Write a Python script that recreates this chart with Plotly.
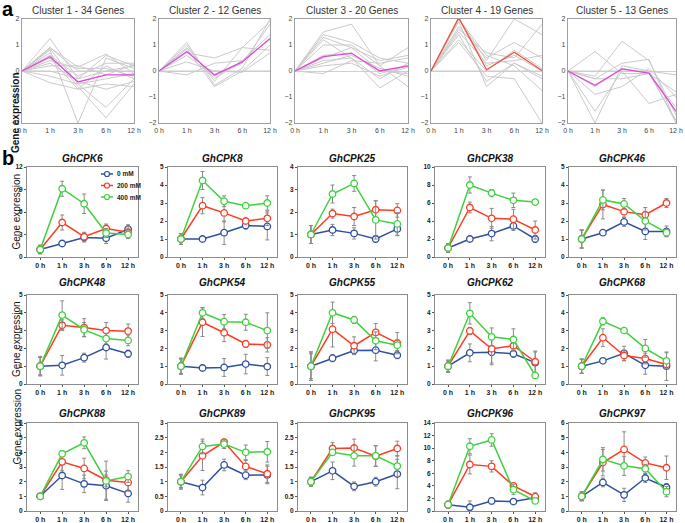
import plotly.graph_objects as go

W, H = 685, 523
times = ["0 h", "1 h", "3 h", "6 h", "12 h"]
xi = [0, 1, 2, 3, 4]

# ---------------- panel a: clusters ----------------
cluster_titles = ["Cluster 1 - 34 Genes", "Cluster 2 - 12 Genes", "Cluster 3 - 20 Genes",
                  "Cluster 4 - 19 Genes", "Cluster 5 - 13 Genes"]
cluster_means = [
    [0, 0.55, -0.42, -0.15, -0.15],
    [0, 0.75, -0.15, 0.35, 1.25],
    [0, 0.55, 0.68, 0.0, 0.2],
    [0, 2.05, 0.05, 0.72, 0.02],
    [0, -0.55, 0.08, -0.08, -1.55],
]
cluster_mean_colors = ["#E048D8", "#E048D8", "#E048D8", "#F0503C", "#E048D8"]
cluster1_genes = [
    [0, 1.25, -0.3, 0.6, 0.2], [0, 0.9, 0.15, 0.65, -0.1], [0, 0.85, -0.5, -1.4, -0.3],
    [0, 0.8, -2.0, 0.5, 0.1], [0, 0.7, -0.6, -1.8, -0.5], [0, 0.6, -0.2, 0.3, 0.3],
    [0, 0.5, -0.7, -0.5, -0.6], [0, 0.4, 0.1, 0.1, -0.2], [0, 0.3, -0.4, -0.7, -0.4],
    [0, 0.0, -0.3, 0.0, 0.2], [0, -0.2, -0.5, -0.3, -0.1], [0, -0.45, -0.7, 0.2, -0.3],
    [0, 0.9, 0.0, 0.0, 0.0], [0, 0.2, 0.2, -0.15, 0.25],
]
cluster2_genes = [
    [0, 1.1, -0.55, 0.1, 2.0], [0, 1.0, -0.4, 0.9, 1.9], [0, 0.9, -0.3, 0.4, 1.4],
    [0, 0.85, -0.6, 0.0, 1.0], [0, 0.7, 0.5, 0.9, 0.8], [0, 0.35, 0.0, -0.05, 0.7],
    [0, -0.15, 0.3, 0.4, 1.2], [0, 0.6, -0.2, 0.3, 1.8], [0, 0.0, 0.0, 0.0, 0.0],
]
cluster3_genes = [
    [0, 1.5, 1.8, 0.2, 0.9], [0, 1.3, 0.9, 0.4, 0.6], [0, 1.2, 0.5, -0.65, 0.0],
    [0, 1.0, 1.0, 0.2, -0.6], [0, 0.6, 0.7, -0.1, 0.2], [0, 0.4, 0.5, -0.3, 0.3],
    [0, 0.3, 0.6, 0.1, -0.2], [0, -0.1, 0.4, 0.3, 0.5], [0, 0.2, 0.3, -0.2, 0.15],
    [0, 0.5, 0.9, 0.0, -0.1], [0, 1.4, 1.1, 0.5, 0.3],
]
cluster4_genes = [
    [0, 2.0, 0.4, 2.0, 1.4], [0, 2.0, 0.6, 0.2, -0.75], [0, 1.9, -0.6, 0.3, -0.3],
    [0, 1.7, 0.5, 1.1, 0.5], [0, 1.5, 0.3, 0.4, 0.6], [0, 1.4, -0.4, 0.3, -0.2],
    [0, 1.2, 0.0, 0.8, 0.1], [0, 1.1, -0.2, -0.3, -2.0], [0, 2.0, 0.2, 0.6, 0.0],
    [0, 1.6, 0.7, 0.5, 1.8], [0, 0.0, 0.0, 0.0, 0.0],
]
cluster5_genes = [
    [0, 0.75, -0.1, -0.1, -0.8], [0, -0.2, 1.15, 0.4, -1.7], [0, -0.3, 0.3, 0.45, -2.0],
    [0, -0.9, -0.6, 0.1, -1.0], [0, -1.55, 0.0, -1.25, -0.9], [0, -2.0, 0.2, 0.0, -2.0],
    [0, -0.6, 0.1, -0.1, -1.4], [0, -0.3, -0.3, -0.1, -1.9], [0, 0.0, 0.0, 0.0, -0.15],
]
cluster_genes = [cluster1_genes, cluster2_genes, cluster3_genes, cluster4_genes, cluster5_genes]

# ---------------- panel b: qRT-PCR ----------------
genes = ["GhCPK6", "GhCPK8", "GhCPK25", "GhCPK38", "GhCPK46",
         "GhCPK48", "GhCPK54", "GhCPK55", "GhCPK62", "GhCPK68",
         "GhCPK88", "GhCPK89", "GhCPK95", "GhCPK96", "GhCPK97"]
y_max = [12, 5, 4, 10, 5, 5, 5, 5, 5, 5, 6, 3, 3, 14, 6]
y_step = [3, 1, 1, 2, 1, 1, 1, 1, 1, 1, 1, 0.5, 0.5, 2, 1]
series_names = ["0 mM", "200 mM", "400 mM"]
series_colors = ["#2F4F9F", "#FF3B22", "#3DD23D"]

mean_0mM = {
    "GhCPK6": [1.0, 1.8, 2.6, 2.5, 3.7], "GhCPK8": [1.0, 1.0, 1.35, 1.75, 1.7],
    "GhCPK25": [1.0, 1.2, 1.05, 0.8, 1.25], "GhCPK38": [1.0, 2.0, 2.6, 3.45, 2.0],
    "GhCPK46": [1.0, 1.35, 1.95, 1.42, 1.42], "GhCPK48": [1.0, 1.05, 1.48, 2.05, 1.7],
    "GhCPK54": [1.0, 0.9, 0.93, 1.12, 0.98], "GhCPK55": [1.0, 1.45, 1.88, 1.9, 1.62],
    "GhCPK62": [1.0, 1.75, 1.78, 1.7, 1.2], "GhCPK68": [1.0, 1.3, 1.72, 1.05, 1.0],
    "GhCPK88": [1.0, 2.42, 1.85, 1.72, 1.2], "GhCPK89": [1.0, 0.8, 1.57, 1.22, 1.23],
    "GhCPK95": [1.0, 1.37, 0.84, 1.0, 1.26], "GhCPK96": [1.0, 0.6, 1.6, 1.5, 2.1],
    "GhCPK97": [1.0, 1.95, 1.1, 2.25, 1.62],
}
err_0mM = {
    "GhCPK6": [0.5, 0.15, 0.6, 0.7, 0.6], "GhCPK8": [0.3, 0.05, 0.65, 0.2, 0.75],
    "GhCPK25": [0.4, 0.25, 0.25, 0.15, 0.3], "GhCPK38": [0.5, 0.2, 0.8, 0.5, 0.4],
    "GhCPK46": [0.5, 0.1, 0.25, 0.45, 0.3], "GhCPK48": [0.5, 0.55, 0.25, 0.65, 0.2],
    "GhCPK54": [0.45, 0.15, 0.5, 0.55, 0.5], "GhCPK55": [0.8, 0.2, 0.2, 0.6, 0.2],
    "GhCPK62": [0.35, 0.5, 0.7, 0.2, 0.6], "GhCPK68": [0.4, 0.1, 0.4, 0.5, 0.8],
    "GhCPK88": [0.15, 0.95, 0.6, 1.0, 0.6], "GhCPK89": [0.25, 0.25, 0.2, 0.15, 0.3],
    "GhCPK95": [0.15, 0.3, 0.15, 0.15, 0.5], "GhCPK96": [0.5, 1.0, 0.5, 0.3, 0.3],
    "GhCPK97": [0.3, 0.3, 0.45, 0.3, 0.25],
}
mean_200mM = {
    "GhCPK6": [1.0, 4.6, 2.7, 3.8, 3.3], "GhCPK8": [1.0, 2.85, 2.45, 2.0, 2.15],
    "GhCPK25": [1.0, 1.93, 1.8, 2.1, 2.07], "GhCPK38": [1.0, 5.5, 4.3, 4.2, 3.0],
    "GhCPK46": [1.0, 2.92, 2.52, 2.35, 3.0], "GhCPK48": [1.0, 3.3, 3.17, 3.0, 2.97],
    "GhCPK54": [1.0, 3.47, 2.88, 2.25, 2.2], "GhCPK55": [1.0, 3.08, 2.15, 2.9, 2.3],
    "GhCPK62": [1.0, 2.98, 1.98, 2.15, 1.25], "GhCPK68": [1.0, 2.6, 1.6, 1.43, 1.1],
    "GhCPK88": [1.0, 3.35, 2.9, 2.1, 1.95], "GhCPK89": [1.0, 1.88, 2.35, 1.52, 1.27],
    "GhCPK95": [1.0, 2.13, 2.15, 1.87, 2.13], "GhCPK96": [1.0, 7.4, 7.1, 4.0, 2.3],
    "GhCPK97": [1.0, 3.3, 4.2, 3.28, 2.95],
}
err_200mM = {
    "GhCPK6": [0.5, 1.0, 0.6, 0.6, 0.8], "GhCPK8": [0.3, 0.45, 0.5, 0.1, 0.4],
    "GhCPK25": [0.4, 0.2, 0.4, 0.4, 0.3], "GhCPK38": [0.5, 0.6, 1.1, 1.1, 1.0],
    "GhCPK46": [0.5, 0.8, 0.3, 0.4, 0.25], "GhCPK48": [0.5, 0.3, 0.5, 0.45, 0.4],
    "GhCPK54": [0.4, 0.8, 0.5, 0.2, 0.4], "GhCPK55": [0.7, 1.0, 0.5, 0.5, 0.6],
    "GhCPK62": [0.3, 0.2, 0.8, 0.3, 0.6], "GhCPK68": [0.4, 0.5, 0.3, 0.3, 0.2],
    "GhCPK88": [0.15, 0.6, 0.7, 1.3, 0.6], "GhCPK89": [0.25, 0.5, 0.1, 0.2, 0.3],
    "GhCPK95": [0.15, 0.2, 0.3, 0.35, 0.25], "GhCPK96": [0.5, 1.5, 0.9, 0.4, 0.6],
    "GhCPK97": [0.3, 0.9, 1.2, 0.4, 0.8],
}
mean_400mM = {
    "GhCPK6": [1.0, 9.1, 7.1, 3.2, 3.0], "GhCPK8": [1.0, 4.25, 3.1, 2.85, 3.0],
    "GhCPK25": [1.0, 2.8, 3.27, 1.65, 1.47], "GhCPK38": [1.0, 8.0, 7.1, 6.3, 6.1],
    "GhCPK46": [1.0, 3.17, 2.95, 2.0, 1.35], "GhCPK48": [1.0, 3.87, 3.05, 2.55, 2.45],
    "GhCPK54": [1.0, 4.0, 3.5, 3.47, 3.0], "GhCPK55": [1.0, 4.0, 3.6, 2.43, 2.18],
    "GhCPK62": [1.0, 3.97, 2.65, 2.5, 0.48], "GhCPK68": [1.0, 3.52, 3.0, 2.0, 1.3],
    "GhCPK88": [1.0, 3.9, 4.65, 2.05, 2.35], "GhCPK89": [1.0, 2.2, 2.28, 2.0, 2.02],
    "GhCPK95": [1.0, 2.0, 1.88, 1.88, 1.53], "GhCPK96": [1.0, 10.3, 11.3, 3.4, 1.6],
    "GhCPK97": [1.0, 3.52, 3.08, 2.88, 1.32],
}
err_400mM = {
    "GhCPK6": [0.6, 1.0, 1.3, 0.6, 0.5], "GhCPK8": [0.3, 0.5, 0.3, 0.15, 0.4],
    "GhCPK25": [0.4, 0.4, 0.35, 0.85, 0.5], "GhCPK38": [0.4, 0.9, 0.4, 0.8, 0.3],
    "GhCPK46": [0.5, 0.55, 0.3, 0.5, 0.2], "GhCPK48": [0.55, 0.8, 0.4, 0.3, 0.3],
    "GhCPK54": [0.45, 0.3, 0.4, 0.45, 1.0], "GhCPK55": [0.8, 0.6, 0.2, 0.5, 0.3],
    "GhCPK62": [0.3, 0.6, 0.5, 0.6, 0.15], "GhCPK68": [0.4, 0.2, 0.1, 0.5, 0.45],
    "GhCPK88": [0.15, 0.2, 0.4, 0.4, 0.4], "GhCPK89": [0.2, 0.25, 0.15, 0.25, 0.35],
    "GhCPK95": [0.15, 0.1, 0.35, 0.35, 0.35], "GhCPK96": [0.6, 1.2, 1.0, 0.8, 0.3],
    "GhCPK97": [0.3, 0.8, 0.65, 0.3, 0.35],
}
series_means = [mean_0mM, mean_200mM, mean_400mM]
series_errs = [err_0mM, err_200mM, err_400mM]

# ---------------- layout geometry (pixels) ----------------
a_cols = [(22, 134), (159, 270), (295, 408), (431, 542), (568, 676)]
a_row = (19, 123)
b_cols = [(27, 138), (168, 277), (298, 407), (435, 545), (569, 676)]
b_rows = [(167, 257), (295, 384), (423, 511)]


def xd(p):
    return [p[0] / W, p[1] / W]


def yd(p):
    return [1 - p[1] / H, 1 - p[0] / H]


def px(x):
    return x / W


def py(y):
    return 1 - y / H


fig = go.Figure()
layout = dict(width=W, height=H, margin=dict(l=0, r=0, t=0, b=0, autoexpand=False),
              paper_bgcolor="white", plot_bgcolor="white",
              font=dict(family="Liberation Sans, Arial", color="#222"), showlegend=False)
annotations = []
shapes = []

# panel a
for k in range(5):
    n = k + 1
    xa, ya = ("x" if n == 1 else f"x{n}"), ("y" if n == 1 else f"y{n}")
    for g in cluster_genes[k]:
        fig.add_trace(go.Scatter(x=xi, y=g, mode="lines", line=dict(color="#CACACA", width=1),
                                 xaxis=xa, yaxis=ya, hoverinfo="skip"))
    fig.add_trace(go.Scatter(x=xi, y=cluster_means[k], mode="lines",
                             line=dict(color=cluster_mean_colors[k], width=1.3),
                             xaxis=xa, yaxis=ya))
    layout[f"xaxis{n}"] = dict(domain=xd(a_cols[k]), anchor=ya, range=[0, 4], tickvals=xi,
                               ticktext=times, showline=True, mirror=True, linecolor="#A0A0A0",
                               linewidth=1.2, showgrid=False, zeroline=False, ticks="",
                               tickfont=dict(size=7, color="#444"))
    layout[f"yaxis{n}"] = dict(domain=yd(a_row), anchor=xa, range=[-2, 2], tickvals=[-2, -1, 0, 1, 2],
                               showline=True, mirror=True, linecolor="#A0A0A0", linewidth=1.2,
                               showgrid=False, zeroline=True, zerolinecolor="#D0D0D0", zerolinewidth=1,
                               ticks="", tickfont=dict(size=7, color="#444"))
    annotations.append(dict(x=px(sum(a_cols[k]) / 2), y=py(10), xref="paper", yref="paper",
                            text=cluster_titles[k], showarrow=False,
                            font=dict(size=10, color="#333"), xanchor="center", yanchor="middle"))

# panel b
for j, gname in enumerate(genes):
    n = j + 6
    r, c = divmod(j, 5)
    xa, ya = f"x{n}", f"y{n}"
    for s in range(3):
        fig.add_trace(go.Scatter(
            x=xi, y=series_means[s][gname], mode="lines+markers", name=series_names[s],
            line=dict(color=series_colors[s], width=1.5),
            marker=dict(symbol="circle", size=6.5, color="white",
                        line=dict(color=series_colors[s], width=1.3)),
            error_y=dict(type="data", array=series_errs[s][gname], color="#8A8A8A",
                         thickness=1, width=2),
            xaxis=xa, yaxis=ya))
    layout[f"xaxis{n}"] = dict(domain=xd(b_cols[c]), anchor=ya, range=[-0.6, 4.45], tickvals=xi,
                               ticktext=times, showline=True, mirror=True, linecolor="#8C8C8C",
                               linewidth=1, showgrid=False, zeroline=False, ticks="outside",
                               ticklen=2, tickcolor="#555",
                               tickfont=dict(size=7, color="#222", weight="bold"))
    layout[f"yaxis{n}"] = dict(domain=yd(b_rows[r]), anchor=xa, range=[0, y_max[j]],
                               dtick=y_step[j], tick0=0, showline=True, mirror=True,
                               linecolor="#8C8C8C", linewidth=1, showgrid=False, zeroline=False,
                               ticks="outside", ticklen=2, tickcolor="#555",
                               tickfont=dict(size=6.5, color="#222", weight="bold"))
    ty = [158, 282, 413][r]
    annotations.append(dict(x=px(sum(b_cols[c]) / 2), y=py(ty), xref="paper", yref="paper",
                            text=f"<b><i>{gname}</i></b>", showarrow=False,
                            font=dict(size=10, color="#111"), xanchor="center", yanchor="middle"))

# legend (drawn in the GhCPK6 panel)
for s in range(3):
    ly = 174 + 11.5 * s
    shapes.append(dict(type="line", xref="paper", yref="paper", x0=px(101), x1=px(113),
                       y0=py(ly), y1=py(ly), line=dict(color=series_colors[s], width=1.5)))
    shapes.append(dict(type="circle", xref="paper", yref="paper", x0=px(104.5), x1=px(109.5),
                       y0=py(ly + 2.5), y1=py(ly - 2.5), fillcolor="white",
                       line=dict(color=series_colors[s], width=1.2)))
    annotations.append(dict(x=px(115), y=py(ly), xref="paper", yref="paper", text=series_names[s],
                            showarrow=False, xanchor="left", yanchor="middle",
                            font=dict(size=6.5, color="#222", weight="bold")))

# axis titles and panel letters
annotations.append(dict(x=px(8), y=py(70), xref="paper", yref="paper", text="<b>Gene expression</b>",
                        textangle=-90, showarrow=False, font=dict(size=10, color="#111")))
for ry in b_rows:
    annotations.append(dict(x=px(9), y=py((ry[0] + ry[1]) / 2), xref="paper", yref="paper",
                            text="Gene expression", textangle=-90, showarrow=False,
                            font=dict(size=10, color="#111")))
annotations.append(dict(x=px(0), y=py(22), xref="paper", yref="paper", text="<b>a</b>",
                        showarrow=False, xanchor="left", yanchor="bottom",
                        font=dict(size=20, color="#000")))
annotations.append(dict(x=px(0), y=py(171), xref="paper", yref="paper", text="<b>b</b>",
                        showarrow=False, xanchor="left", yanchor="bottom",
                        font=dict(size=20, color="#000")))

layout["annotations"] = annotations
layout["shapes"] = shapes
fig.update_layout(**layout)
fig.write_html("out.html", config={"displayModeBar": False},
               post_script="document.body.style.margin='0px';document.body.style.overflow='hidden';")
